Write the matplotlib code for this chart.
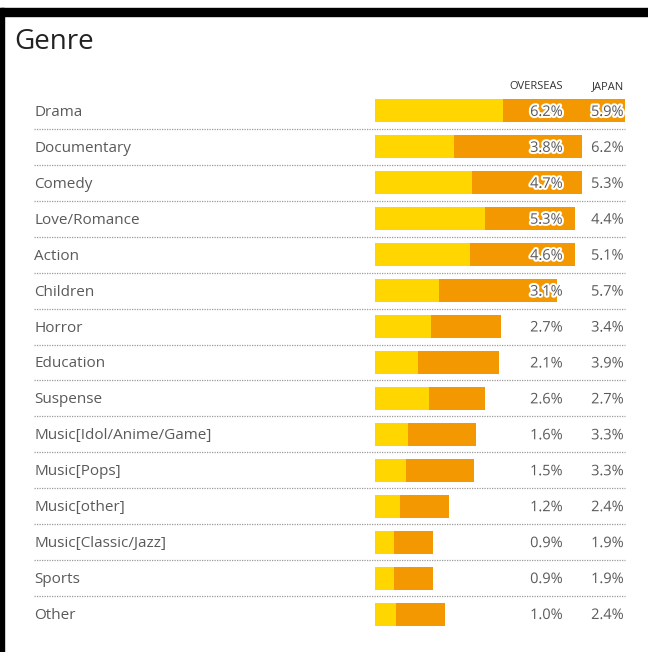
import matplotlib
matplotlib.use("Agg")
import matplotlib.pyplot as plt
import matplotlib.patheffects as pe
from matplotlib.patches import Rectangle
from matplotlib.transforms import blended_transform_factory

plt.rcParams['font.family'] = ['Open Sans', 'DejaVu Sans']

genres = ['Drama', 'Documentary', 'Comedy', 'Love/Romance', 'Action', 'Children',
          'Horror', 'Education', 'Suspense', 'Music[Idol/Anime/Game]', 'Music[Pops]',
          'Music[other]', 'Music[Classic/Jazz]', 'Sports', 'Other']
overseas = [6.2, 3.8, 4.7, 5.3, 4.6, 3.1, 2.7, 2.1, 2.6, 1.6, 1.5, 1.2, 0.9, 0.9, 1.0]
japan = [5.9, 6.2, 5.3, 4.4, 5.1, 5.7, 3.4, 3.9, 2.7, 3.3, 3.3, 2.4, 1.9, 1.9, 2.4]

W, H = 648, 652
fig = plt.figure(figsize=(W / 100, H / 100), dpi=100)

# bar axes, placed in pixel terms
left, right, top, bottom = 375, 625, 93, 632
ax = fig.add_axes([left / W, 1 - bottom / H, (right - left) / W, (bottom - top) / H])
n = len(genres)
rows = list(range(n))

ax.barh(rows, overseas, height=0.64, color='#FFD600', linewidth=0)
ax.barh(rows, japan, left=overseas, height=0.64, color='#F39800', linewidth=0)
ax.set_xlim(0, 12.1)
ax.set_ylim(n - 0.5, -0.5)
ax.axis('off')

tr = blended_transform_factory(fig.transFigure, ax.transData)
grey = '#5a5a5a'
stroke = [pe.withStroke(linewidth=3, foreground='white')]

for i, g in enumerate(genres):
    ax.text(34 / W, i + 0.04, g, transform=tr, ha='left', va='center',
            fontsize=11, color=grey)
    ax.text(563 / W, i + 0.04, f'{overseas[i]:.1f}%', transform=tr, ha='right',
            va='center', fontsize=10.5, color=grey, path_effects=stroke)
    ax.text(624 / W, i + 0.04, f'{japan[i]:.1f}%', transform=tr, ha='right',
            va='center', fontsize=10.5, color=grey, path_effects=stroke)
    if i < n - 1:
        ax.plot([34 / W, 625 / W], [i + 0.5, i + 0.5], transform=tr, color='#9a9a9a',
                linewidth=0.9, linestyle=(0, (1, 1)), clip_on=False)

ax.text(563 / W, -0.67, 'OVERSEAS', transform=tr, ha='right', va='center',
        fontsize=8, color='#333333')
ax.text(624 / W, -0.67, 'JAPAN', transform=tr, ha='right', va='center',
        fontsize=8, color='#333333')

fig.text(14 / W, 1 - 42 / H, 'Genre', ha='left', va='center', fontsize=20, color='#222222')

# black frame on top and left
fig.patches.append(Rectangle((0, 1 - 16 / H), 1, 8 / H, transform=fig.transFigure,
                             color='black', zorder=10))
fig.patches.append(Rectangle((0, 0), 4 / W, 1 - 8 / H, transform=fig.transFigure,
                             color='black', zorder=10))

fig.savefig('out.png', dpi=100, facecolor='white')
